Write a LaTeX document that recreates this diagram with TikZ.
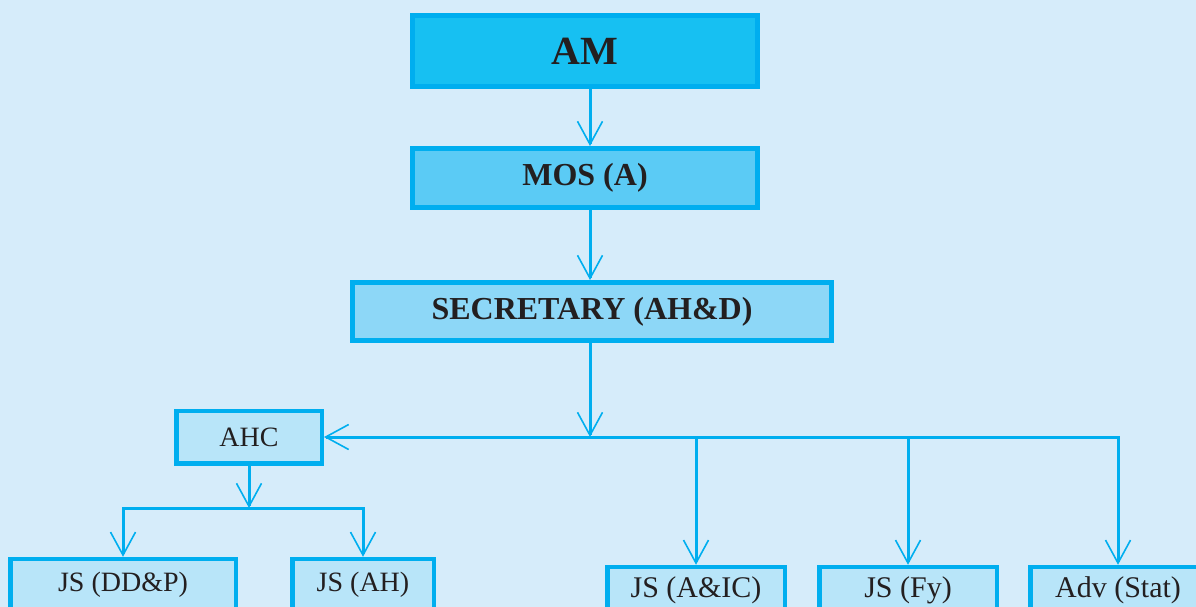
\documentclass[tikz,border=0pt]{standalone}
\usepackage{fontspec}
\setmainfont{Liberation Serif}
\usepackage{xcolor}
\usepackage{tikz}
\usetikzlibrary{arrows.meta}
\definecolor{pagebg}{RGB}{214,236,250}
\definecolor{rim}{RGB}{0,174,239}
\definecolor{tierone}{RGB}{23,192,242}
\definecolor{tiertwo}{RGB}{91,203,245}
\definecolor{tierthree}{RGB}{141,215,247}
\definecolor{tierfour}{RGB}{184,229,249}
\definecolor{ink}{RGB}{35,31,32}

\begin{document}
\begin{tikzpicture}[
    x=1pt,y=-1pt,
    box/.style={draw=rim,line width=4.5pt,text=ink,align=center,inner sep=0pt},
    headbox/.style={box,line width=5pt,font=\bfseries\fontsize{32}{38}\selectfont},
    lowbox/.style={box,fill=tierfour,minimum height=46pt,font=\fontsize{30}{36}\selectfont},
    link/.style={draw=rim,line width=3pt},
    tip/.style={-{Straight Barb[length=23pt,width=25pt,line width=1.6pt]}}
  ]
    \useasboundingbox (0,0) rectangle (1196,606);
    \clip (0,0) rectangle (1196,606);
    \fill[pagebg] (-5,-5) rectangle (1201,611);

    \node[headbox,fill=tierone,minimum width=345pt,minimum height=71pt,
      font=\bfseries\fontsize{40}{48}\selectfont] (am) at (585,51) {AM};
    \node[headbox,fill=tiertwo,minimum width=345pt,minimum height=59pt] (mos) at (585,178) {MOS (A)};
    \node[headbox,fill=tierthree,minimum width=479pt,minimum height=58pt] (sec) at (592,311.5) {SECRETARY (AH\&D)};
    \node[box,fill=tierfour,minimum width=145.5pt,minimum height=52.5pt,
      font=\fontsize{28}{34}\selectfont] (ahc) at (249,437) {AHC};

    \node[lowbox,minimum width=225.5pt,minimum height=52pt,font=\fontsize{28}{34}\selectfont] (ddp) at (123,585) {JS (DD\&P)};
    \node[lowbox,minimum width=141.5pt,minimum height=52pt,font=\fontsize{28}{34}\selectfont] (ah) at (363,585) {JS (AH)};
    \node[lowbox,minimum width=177.5pt] (aic) at (696,590) {JS (A\&IC)};
    \node[lowbox,minimum width=177.5pt] (fy) at (908,590) {JS (Fy)};
    \node[lowbox,minimum width=175.5pt] (adv) at (1118,590) {Adv (Stat)};

    % junctions
    \coordinate (hub) at (590,437);
    \coordinate (sub) at (249,508);

    \draw[link,tip] (am.south -| hub) -- (mos.north -| hub);
    \draw[link,tip] (mos.south -| hub) -- (sec.north -| hub);
    \draw[link,tip] (sec.south -| hub) -- (hub);
    \draw[link,tip] (hub) -- (ahc);
    \draw[link,tip] (hub) -| (aic);
    \draw[link,tip] (hub) -| (fy);
    \draw[link,tip] (hub) -| (adv);
    \draw[link,tip] (ahc) -- (sub);
    \draw[link,tip] (sub) -| (ddp);
    \draw[link,tip] (sub) -| (ah);
  \end{tikzpicture}
\end{document}
